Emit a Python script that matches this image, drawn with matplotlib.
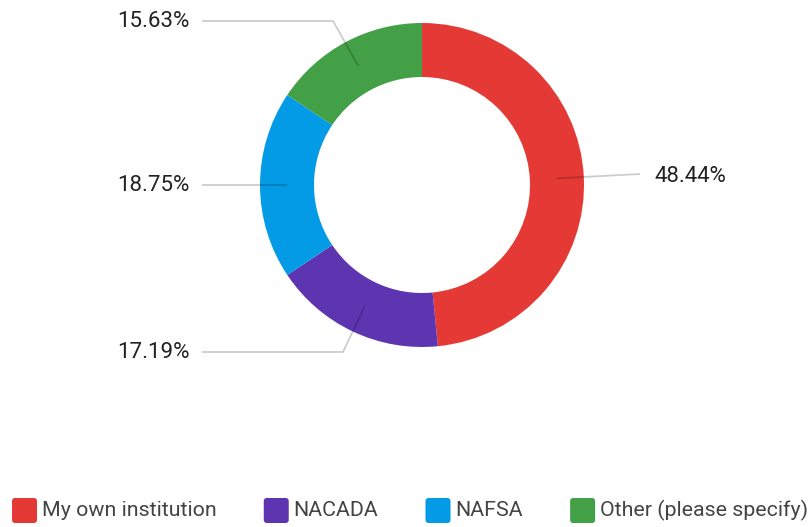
import numpy as np
import matplotlib.pyplot as plt
from matplotlib.patches import FancyBboxPatch

plt.rcParams['font.family'] = ['Roboto', 'DejaVu Sans']

categories = ['My own institution', 'NACADA', 'NAFSA', 'Other (please specify)']
shares = [48.44, 17.19, 18.75, 15.63]
colors = ['#e53935', '#5e35b1', '#039be5', '#43a047']

W, H = 812, 527
fig = plt.figure(figsize=(W / 100, H / 100), dpi=100)
ax = fig.add_axes([0, 0, 1, 1])

# donut, centre in pixel coords (y flipped so 0 is bottom)
cx, cy = 422, H - 185
r_out, r_in = 162, 108
wedges, _ = ax.pie(shares, colors=colors, startangle=90, counterclock=False,
                   center=(cx, cy), radius=r_out,
                   wedgeprops=dict(width=r_out - r_in, linewidth=0),
                   frame=True)
ax.set_xlim(0, W)
ax.set_ylim(0, H)
ax.set_aspect('equal')
ax.axis('off')

# leader lines: elbow point and label y per slice
label_y = [176, 352, 185, 21]
elbow = [None, (343, 352), None, (333, 21)]
r_mid = (r_out + r_in) / 2
for i, w in enumerate(wedges):
    ang = np.deg2rad((w.theta1 + w.theta2) / 2)
    x0 = cx + r_mid * np.cos(ang)
    y0 = cy + r_mid * np.sin(ang)
    ly = H - label_y[i]
    pct = f'{shares[i]:.2f}%'
    if x0 > cx:
        xs, ys = [x0, 640], [y0, ly + 2]
        ax.text(654, ly, pct, ha='left', va='center', fontsize=16, color='#222222')
    else:
        if elbow[i] is None:
            xs, ys = [x0, 202], [y0, y0]
        else:
            ex, ey = elbow[i]
            xs, ys = [x0, ex, 202], [y0, H - ey, H - ey]
        ax.text(190, ly, pct, ha='right', va='center', fontsize=16, color='#222222')
    ax.plot(xs, ys, color='black', alpha=0.2, lw=1.3, solid_capstyle='butt')

# legend along the bottom
fig.canvas.draw()
renderer = fig.canvas.get_renderer()
x = 12
ly = H - 510.5
for name, c in zip(categories, colors):
    box = FancyBboxPatch((x + 3, ly - 9.5), 19, 19,
                         boxstyle='round,pad=3', fc=c, ec='none')
    ax.add_patch(box)
    t = ax.text(x + 30, ly, name, ha='left', va='center', fontsize=15.4, color='#444444')
    bb = t.get_window_extent(renderer)
    x = bb.x1 + 47

fig.savefig('out.png', dpi=100)
